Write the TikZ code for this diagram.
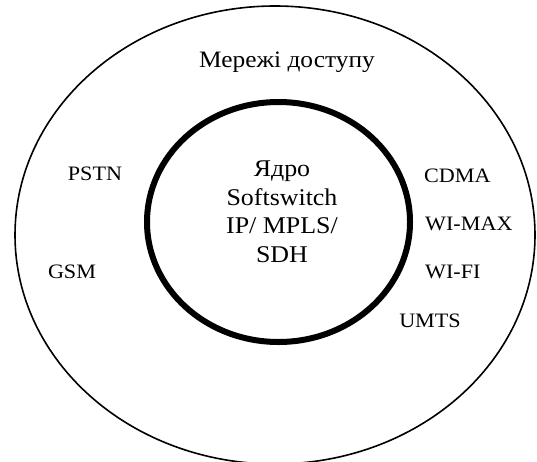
\documentclass[tikz,border=0pt]{standalone}
\usepackage{fontspec}
\setmainfont{Liberation Serif}[FakeStretch=1.08]

\tikzset{
  netlabel/.style={inner sep=0pt, font=\fontsize{20.5}{24}\selectfont},
  corelabel/.style={inner sep=0pt, anchor=base, font=\fontsize{24}{28.7}\selectfont}
}

\begin{document}
\begin{tikzpicture}[x=1pt, y=-1pt]
  \useasboundingbox (0,0) rectangle (537,461);
  \clip (0,0) rectangle (537,461);

  % Access networks and core
  \draw[line width=1.6pt] (275,235) ellipse [x radius=260, y radius=229];
  \draw[line width=6pt] (278.5,222) ellipse [x radius=131.5, y radius=120];

  \node[inner sep=0pt, anchor=base, font=\fontsize{23.5}{27}\selectfont] (access) at (287,67) {Мережі доступу};

  % Core labels
  \node[corelabel] (core) at (282,176) {Ядро};
  \node[corelabel] (soft) at (282,205) {Softswitch};
  \node[corelabel] (mpls) at (282,233) {IP/ MPLS/};
  \node[corelabel] (sdh) at (282,262) {SDH};

  % Left side
  \node[netlabel, anchor=base] (pstn) at (95,180) {PSTN};
  \node[netlabel, anchor=base] (gsm) at (72,278) {GSM};

  % Right side
  \node[netlabel, anchor=base west] (cdma) at (424,182) {CDMA};
  \node[netlabel, anchor=base west] (wimax) at (425,230) {WI-MAX};
  \node[netlabel, anchor=base west] (wifi) at (425,278) {WI-FI};
  \node[netlabel, anchor=base] (umts) at (430,327) {UMTS};
\end{tikzpicture}
\end{document}
